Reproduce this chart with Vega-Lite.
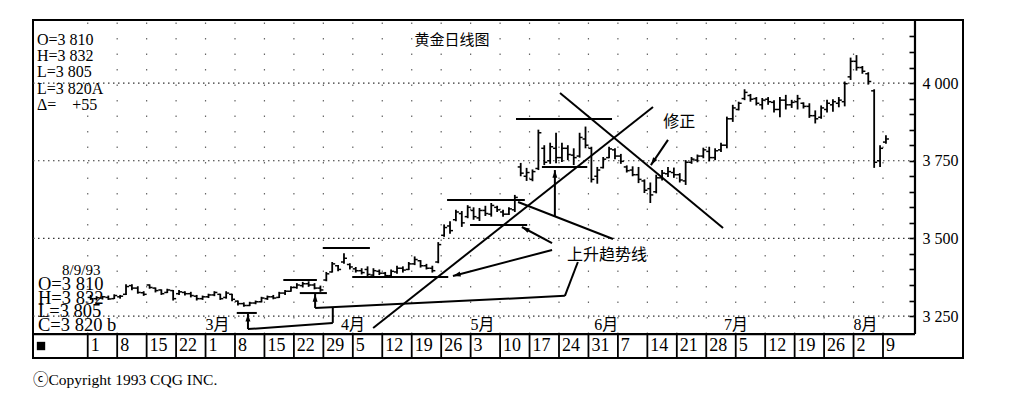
{
  "$schema": "https://vega.github.io/schema/vega-lite/v6.json",
  "width": 930,
  "height": 338,
  "autosize": {"type": "none"},
  "padding": {"left": 33, "top": 20, "right": 61, "bottom": 43},
  "background": "#ffffff",
  "config": {
    "view": {"stroke": "#000", "strokeWidth": 2},
    "axisX": {"disable": true},
    "font": "Liberation Serif"
  },
  "datasets": {
    "bars": [
      {"d":0,"o":3310,"h":3318,"l":3302,"c":3306},{"d":1,"o":3306,"h":3314,"l":3300,"c":3309},{"d":2,"o":3308,"h":3315,"l":3303,"c":3312},{"d":3,"o":3310,"h":3316,"l":3302,"c":3305},{"d":4,"o":3306,"h":3320,"l":3305,"c":3316},
      {"d":5,"o":3312,"h":3318,"l":3306,"c":3314},{"d":6,"o":3320,"h":3352,"l":3318,"c":3345},{"d":7,"o":3348,"h":3352,"l":3333,"c":3340},{"d":8,"o":3340,"h":3346,"l":3322,"c":3326},{"d":9,"o":3325,"h":3330,"l":3315,"c":3320},
      {"d":10,"o":3350,"h":3352,"l":3338,"c":3342},{"d":11,"o":3340,"h":3342,"l":3326,"c":3332},{"d":12,"o":3334,"h":3336,"l":3318,"c":3322},{"d":13,"o":3326,"h":3338,"l":3324,"c":3334},{"d":14,"o":3332,"h":3334,"l":3300,"c":3306},
      {"d":15,"o":3322,"h":3334,"l":3318,"c":3328},{"d":16,"o":3326,"h":3330,"l":3316,"c":3322},{"d":17,"o":3322,"h":3328,"l":3310,"c":3316},{"d":18,"o":3314,"h":3318,"l":3300,"c":3306},{"d":19,"o":3306,"h":3316,"l":3302,"c":3312},
      {"d":20,"o":3312,"h":3322,"l":3308,"c":3318},{"d":21,"o":3318,"h":3330,"l":3314,"c":3326},{"d":22,"o":3320,"h":3322,"l":3302,"c":3306},{"d":23,"o":3310,"h":3330,"l":3306,"c":3324},{"d":24,"o":3320,"h":3322,"l":3298,"c":3304},
      {"d":25,"o":3298,"h":3300,"l":3284,"c":3290},{"d":26,"o":3290,"h":3294,"l":3280,"c":3284},{"d":27,"o":3284,"h":3296,"l":3282,"c":3292},{"d":28,"o":3292,"h":3300,"l":3288,"c":3296},{"d":29,"o":3296,"h":3312,"l":3294,"c":3308},
      {"d":30,"o":3306,"h":3316,"l":3302,"c":3312},{"d":31,"o":3312,"h":3318,"l":3304,"c":3308},{"d":32,"o":3310,"h":3328,"l":3308,"c":3324},{"d":33,"o":3324,"h":3334,"l":3318,"c":3330},{"d":34,"o":3330,"h":3346,"l":3328,"c":3342},
      {"d":35,"o":3342,"h":3356,"l":3338,"c":3350},{"d":36,"o":3348,"h":3360,"l":3342,"c":3354},{"d":37,"o":3354,"h":3362,"l":3344,"c":3350},{"d":38,"o":3350,"h":3356,"l":3336,"c":3340},{"d":39,"o":3340,"h":3348,"l":3328,"c":3334},
      {"d":40,"o":3366,"h":3392,"l":3362,"c":3386},{"d":41,"o":3392,"h":3424,"l":3390,"c":3418},{"d":42,"o":3412,"h":3414,"l":3394,"c":3400},{"d":43,"o":3424,"h":3452,"l":3418,"c":3436},{"d":44,"o":3416,"h":3420,"l":3400,"c":3408},
      {"d":45,"o":3402,"h":3408,"l":3390,"c":3396},{"d":46,"o":3396,"h":3404,"l":3384,"c":3390},{"d":47,"o":3400,"h":3410,"l":3378,"c":3384},{"d":48,"o":3382,"h":3404,"l":3376,"c":3396},{"d":49,"o":3394,"h":3400,"l":3382,"c":3388},
      {"d":50,"o":3388,"h":3392,"l":3376,"c":3380},{"d":51,"o":3380,"h":3400,"l":3378,"c":3394},{"d":52,"o":3392,"h":3412,"l":3386,"c":3404},{"d":53,"o":3404,"h":3410,"l":3390,"c":3398},{"d":54,"o":3400,"h":3424,"l":3398,"c":3418},
      {"d":55,"o":3418,"h":3442,"l":3414,"c":3432},{"d":56,"o":3428,"h":3430,"l":3406,"c":3412},{"d":57,"o":3412,"h":3418,"l":3400,"c":3404},{"d":58,"o":3404,"h":3412,"l":3390,"c":3396},{"d":59,"o":3424,"h":3488,"l":3420,"c":3480},
      {"d":60,"o":3510,"h":3545,"l":3505,"c":3535},{"d":61,"o":3540,"h":3555,"l":3515,"c":3525},{"d":62,"o":3560,"h":3592,"l":3555,"c":3585},{"d":63,"o":3580,"h":3588,"l":3537,"c":3550},{"d":64,"o":3570,"h":3607,"l":3565,"c":3600},
      {"d":65,"o":3590,"h":3600,"l":3560,"c":3570},{"d":66,"o":3566,"h":3598,"l":3556,"c":3590},{"d":67,"o":3590,"h":3605,"l":3572,"c":3580},{"d":68,"o":3578,"h":3614,"l":3570,"c":3606},{"d":69,"o":3600,"h":3605,"l":3585,"c":3592},
      {"d":70,"o":3585,"h":3592,"l":3570,"c":3578},{"d":71,"o":3578,"h":3600,"l":3575,"c":3595},{"d":72,"o":3592,"h":3640,"l":3585,"c":3632},{"d":73,"o":3730,"h":3743,"l":3700,"c":3710},{"d":74,"o":3700,"h":3727,"l":3685,"c":3712},
      {"d":75,"o":3690,"h":3722,"l":3684,"c":3715},{"d":76,"o":3725,"h":3850,"l":3720,"c":3840},{"d":77,"o":3790,"h":3800,"l":3736,"c":3745},{"d":78,"o":3750,"h":3808,"l":3740,"c":3795},{"d":79,"o":3790,"h":3840,"l":3742,"c":3760},
      {"d":80,"o":3760,"h":3808,"l":3746,"c":3790},{"d":81,"o":3790,"h":3800,"l":3752,"c":3770},{"d":82,"o":3768,"h":3790,"l":3736,"c":3760},{"d":83,"o":3765,"h":3840,"l":3760,"c":3825},{"d":84,"o":3820,"h":3860,"l":3790,"c":3800},
      {"d":85,"o":3790,"h":3795,"l":3680,"c":3690},{"d":86,"o":3700,"h":3730,"l":3676,"c":3720},{"d":87,"o":3728,"h":3762,"l":3725,"c":3755},{"d":88,"o":3760,"h":3795,"l":3758,"c":3788},{"d":89,"o":3785,"h":3790,"l":3755,"c":3765},
      {"d":90,"o":3765,"h":3772,"l":3740,"c":3748},{"d":91,"o":3730,"h":3735,"l":3712,"c":3718},{"d":92,"o":3720,"h":3732,"l":3700,"c":3705},{"d":93,"o":3705,"h":3730,"l":3678,"c":3690},{"d":94,"o":3685,"h":3690,"l":3646,"c":3655},
      {"d":95,"o":3660,"h":3680,"l":3614,"c":3640},{"d":96,"o":3650,"h":3705,"l":3645,"c":3695},{"d":97,"o":3695,"h":3720,"l":3686,"c":3710},{"d":98,"o":3708,"h":3730,"l":3698,"c":3715},{"d":99,"o":3712,"h":3728,"l":3695,"c":3705},
      {"d":100,"o":3705,"h":3710,"l":3680,"c":3688},{"d":101,"o":3685,"h":3752,"l":3672,"c":3745},{"d":102,"o":3745,"h":3762,"l":3740,"c":3755},{"d":103,"o":3752,"h":3770,"l":3745,"c":3765},{"d":104,"o":3765,"h":3792,"l":3758,"c":3785},
      {"d":105,"o":3780,"h":3795,"l":3748,"c":3760},{"d":106,"o":3760,"h":3790,"l":3752,"c":3782},{"d":107,"o":3785,"h":3808,"l":3778,"c":3800},{"d":108,"o":3800,"h":3892,"l":3790,"c":3885},{"d":109,"o":3885,"h":3930,"l":3875,"c":3920},
      {"d":110,"o":3915,"h":3940,"l":3912,"c":3935},{"d":111,"o":3950,"h":3980,"l":3945,"c":3970},{"d":112,"o":3960,"h":3965,"l":3940,"c":3948},{"d":113,"o":3950,"h":3955,"l":3928,"c":3935},{"d":114,"o":3930,"h":3952,"l":3915,"c":3945},
      {"d":115,"o":3948,"h":3955,"l":3930,"c":3940},{"d":116,"o":3938,"h":3945,"l":3905,"c":3915},{"d":117,"o":3915,"h":3955,"l":3890,"c":3945},{"d":118,"o":3945,"h":3962,"l":3915,"c":3930},{"d":119,"o":3930,"h":3946,"l":3920,"c":3938},
      {"d":120,"o":3940,"h":3962,"l":3915,"c":3950},{"d":121,"o":3935,"h":3938,"l":3918,"c":3925},{"d":122,"o":3925,"h":3935,"l":3888,"c":3895},{"d":123,"o":3895,"h":3912,"l":3870,"c":3885},{"d":124,"o":3890,"h":3928,"l":3885,"c":3920},
      {"d":125,"o":3915,"h":3946,"l":3905,"c":3935},{"d":126,"o":3930,"h":3948,"l":3908,"c":3940},{"d":127,"o":3935,"h":3955,"l":3922,"c":3945},{"d":128,"o":3940,"h":4005,"l":3925,"c":3998},{"d":129,"o":4020,"h":4082,"l":4010,"c":4070},
      {"d":130,"o":4070,"h":4090,"l":4040,"c":4050},{"d":131,"o":4050,"h":4055,"l":4030,"c":4038},{"d":132,"o":4030,"h":4035,"l":3995,"c":4005},{"d":133,"o":3975,"h":3980,"l":3727,"c":3745},{"d":134,"o":3750,"h":3800,"l":3730,"c":3790},
      {"d":135,"o":3810,"h":3832,"l":3805,"c":3820}
    ],
    "weeks": [
      {"d":0,"label":"1"},{"d":5,"label":"8"},{"d":10,"label":"15"},{"d":15,"label":"22"},
      {"d":20,"label":"1"},{"d":25,"label":"8"},{"d":30,"label":"15"},{"d":35,"label":"22"},{"d":40,"label":"29"},
      {"d":45,"label":"5"},{"d":50,"label":"12"},{"d":55,"label":"19"},{"d":60,"label":"26"},
      {"d":65,"label":"3"},{"d":70,"label":"10"},{"d":75,"label":"17"},{"d":80,"label":"24"},{"d":85,"label":"31"},
      {"d":90,"label":"7"},{"d":95,"label":"14"},{"d":100,"label":"21"},{"d":105,"label":"28"},
      {"d":110,"label":"5"},{"d":115,"label":"12"},{"d":120,"label":"19"},{"d":125,"label":"26"},
      {"d":130,"label":"2"},{"d":135,"label":"9"}
    ],
    "months": [
      {"d":20,"label":"3月"},{"d":43,"label":"4月"},{"d":65,"label":"5月"},
      {"d":86,"label":"6月"},{"d":108,"label":"7月"},{"d":130,"label":"8月"}
    ],
    "grid": [{"v":3250},{"v":3500},{"v":3750},{"v":4000}],
    "segs": [
      {"x1":47.95,"y1":3211.5,"x2":95.46,"y2":3922.9},
      {"x1":79.67,"y1":3968,"x2":107.35,"y2":3533.4},
      {"x1":72.2,"y1":3884.3,"x2":88.5,"y2":3884.3},
      {"x1":60.5,"y1":3623.6,"x2":73.7,"y2":3623.6},
      {"x1":39.4,"y1":3469,"x2":47.4,"y2":3469},
      {"x1":32.7,"y1":3366,"x2":38.4,"y2":3366},
      {"x1":24.8,"y1":3260,"x2":28.2,"y2":3260},
      {"x1":76.6,"y1":3730,"x2":84.3,"y2":3730},
      {"x1":64.4,"y1":3543,"x2":74.1,"y2":3543},
      {"x1":44.4,"y1":3375.7,"x2":60.7,"y2":3375.7},
      {"x1":35.5,"y1":3324,"x2":40.1,"y2":3324},
      {"x1":78.32,"y1":3462.6,"x2":61.5,"y2":3379},
      {"x1":78.32,"y1":3485,"x2":73.2,"y2":3536.7},
      {"x1":88.67,"y1":3498,"x2":72.55,"y2":3617},
      {"x1":78.8,"y1":3569,"x2":78.8,"y2":3720},
      {"x1":82.7,"y1":3424,"x2":80.5,"y2":3315},
      {"x1":80.5,"y1":3315,"x2":38.1,"y2":3276},
      {"x1":38.1,"y1":3276,"x2":38.1,"y2":3321},
      {"x1":41.1,"y1":3276,"x2":41.1,"y2":3228},
      {"x1":41.1,"y1":3228,"x2":26.7,"y2":3208},
      {"x1":26.7,"y1":3208,"x2":26.7,"y2":3257},
      {"x1":98.0,"y1":3817,"x2":95.1,"y2":3736}
    ],
    "heads": [
      {"d":61.5,"v":3379,"a":255},
      {"d":73.2,"v":3536.7,"a":298},
      {"d":78.8,"v":3720,"a":0},
      {"d":38.1,"v":3321,"a":0},
      {"d":26.7,"v":3257,"a":0},
      {"d":95.1,"v":3736,"a":214}
    ]
  },
  "layer": [
    {
      "data": {"name": "grid"},
      "mark": {"type": "rule", "strokeDash": [1.5, 3.5], "strokeWidth": 1.2, "color": "#333"},
      "encoding": {
        "y": {"field": "v", "type": "quantitative", "title": null},
        "x": {"datum": -9.79, "type": "quantitative"},
        "x2": {"datum": 139.93}
      }
    },
    {
      "data": {"name": "weeks"},
      "mark": {"type": "rule", "strokeDash": [1.5, 14], "strokeWidth": 1.2, "color": "#666", "xOffset": -2.95},
      "encoding": {
        "x": {"field": "d", "type": "quantitative", "title": null},
        "y": {"datum": 3192, "type": "quantitative"},
        "y2": {"datum": 4203}
      }
    },
    {
      "data": {"name": "weeks"},
      "mark": {"type": "rule", "strokeWidth": 1.8, "color": "#000", "xOffset": -2.95},
      "encoding": {
        "x": {"field": "d", "type": "quantitative"},
        "y": {"datum": 3115, "type": "quantitative"},
        "y2": {"datum": 3192}
      }
    },
    {
      "data": {"values": [{}]},
      "mark": {"type": "rule", "strokeWidth": 2.2, "color": "#000"},
      "encoding": {
        "y": {"datum": 3192, "type": "quantitative"},
        "x": {"datum": -9.79, "type": "quantitative"},
        "x2": {"datum": 139.93}
      }
    },
    {
      "data": {"values": [{}]},
      "mark": {"type": "rule", "strokeWidth": 2.2, "color": "#000"},
      "encoding": {
        "x": {"datum": 139.93, "type": "quantitative"},
        "y": {"datum": 3192, "type": "quantitative"},
        "y2": {"datum": 4203}
      }
    },
    {
      "data": {"name": "bars"},
      "mark": {"type": "rule", "strokeWidth": 1.8, "color": "#000"},
      "encoding": {
        "x": {"field": "d", "type": "quantitative", "title": null, "scale": {"domain": [-9.79, 148.08], "nice": false, "zero": false}},
        "y": {
          "field": "h", "type": "quantitative", "title": null,
          "scale": {"domain": [3115, 4203], "nice": false, "zero": false},
          "axis": {
            "orient": "right", "offset": -48, "domain": false, "grid": false,
            "values": [3250,3300,3350,3400,3450,3500,3550,3600,3650,3700,3750,3800,3850,3900,3950,4000,4050,4100,4150],
            "tickCount": 100,
            "labelExpr": "datum.value % 250 === 0 ? replace(format(datum.value, ','), ',', ' ') : ''",
            "tickSize": -6, "tickWidth": 1.6, "tickColor": "#000",
            "labelPadding": 13, "labelFontSize": 16, "labelFont": "Liberation Serif", "labelColor": "#000",
            "labelAlign": "left", "labelBaseline": "middle", "labelOverlap": false, "labelFlush": false
          }
        },
        "y2": {"field": "l"}
      }
    },
    {
      "data": {"name": "bars"},
      "mark": {"type": "tick", "orient": "horizontal", "size": 3, "thickness": 1.5, "xOffset": -1.5, "color": "#000", "opacity": 1},
      "encoding": {
        "x": {"field": "d", "type": "quantitative"},
        "y": {"field": "o", "type": "quantitative"}
      }
    },
    {
      "data": {"name": "bars"},
      "mark": {"type": "tick", "orient": "horizontal", "size": 3, "thickness": 1.5, "xOffset": 1.5, "color": "#000", "opacity": 1},
      "encoding": {
        "x": {"field": "d", "type": "quantitative"},
        "y": {"field": "c", "type": "quantitative"}
      }
    },
    {
      "data": {"name": "segs"},
      "mark": {"type": "rule", "strokeWidth": 2, "color": "#000"},
      "encoding": {
        "x": {"field": "x1", "type": "quantitative"},
        "x2": {"field": "x2"},
        "y": {"field": "y1", "type": "quantitative"},
        "y2": {"field": "y2"}
      }
    },
    {
      "data": {"name": "heads"},
      "mark": {"type": "point", "shape": "M0,0L-0.45,1.4L0.45,1.4Z", "filled": true, "size": 120, "color": "#000", "opacity": 1},
      "encoding": {
        "x": {"field": "d", "type": "quantitative"},
        "y": {"field": "v", "type": "quantitative"},
        "angle": {"field": "a", "type": "quantitative", "scale": null}
      }
    },
    {
      "data": {"name": "weeks"},
      "mark": {"type": "text", "align": "left", "baseline": "middle", "fontSize": 18, "font": "Liberation Serif", "color": "#000", "dx": 0},
      "encoding": {
        "x": {"field": "d", "type": "quantitative"},
        "y": {"datum": 3153.6, "type": "quantitative"},
        "text": {"field": "label"}
      }
    },
    {
      "data": {"name": "months"},
      "mark": {"type": "text", "align": "left", "baseline": "middle", "fontSize": 16, "font": "Liberation Serif, Noto Sans CJK SC", "color": "#000", "dx": -3},
      "encoding": {
        "x": {"field": "d", "type": "quantitative"},
        "y": {"datum": 3221, "type": "quantitative"},
        "text": {"field": "label"}
      }
    },
    {
      "data": {"values": [{}]},
      "mark": {"type": "text", "text": "黄金日线图", "font": "Noto Sans CJK SC", "fontSize": 15, "align": "center", "baseline": "middle", "color": "#000"},
      "encoding": {"x": {"datum": 61.35, "type": "quantitative"}, "y": {"datum": 4138.6, "type": "quantitative"}}
    },
    {
      "data": {"values": [{}]},
      "mark": {"type": "text", "text": "上升趋势线", "font": "Noto Sans CJK SC", "fontSize": 16, "align": "center", "baseline": "middle", "color": "#000"},
      "encoding": {"x": {"datum": 87.65, "type": "quantitative"}, "y": {"datum": 3446.5, "type": "quantitative"}}
    },
    {
      "data": {"values": [{}]},
      "mark": {"type": "text", "text": "修正", "font": "Noto Sans CJK SC", "fontSize": 16, "align": "center", "baseline": "middle", "color": "#000"},
      "encoding": {"x": {"datum": 99.9, "type": "quantitative"}, "y": {"datum": 3874.7, "type": "quantitative"}}
    },
    {
      "data": {"values": [{}]},
      "mark": {"type": "text", "text": "O=3 810\nH=3 832\nL=3 805\nL=3 820A\nΔ=\u00a0\u00a0\u00a0\u00a0+55", "lineBreak": "\n", "lineHeight": 16.3, "font": "Liberation Serif", "fontSize": 16, "align": "left", "baseline": "top", "color": "#000"},
      "encoding": {"x": {"datum": -9.11, "type": "quantitative"}, "y": {"datum": 4165.3, "type": "quantitative"}}
    },
    {
      "data": {"values": [{}]},
      "mark": {"type": "text", "text": "8/9/93", "font": "Liberation Serif", "fontSize": 15, "align": "left", "baseline": "middle", "color": "#000"},
      "encoding": {"x": {"datum": -4.86, "type": "quantitative"}, "y": {"datum": 3398.3, "type": "quantitative"}}
    },
    {
      "data": {"values": [{}]},
      "mark": {"type": "text", "text": "O=3 810\nH=3 832\nL=3 805\nC=3 820 b", "lineBreak": "\n", "lineHeight": 13.7, "font": "Liberation Serif", "fontSize": 18.5, "align": "left", "baseline": "middle", "color": "#000"},
      "encoding": {"x": {"datum": -8.94, "type": "quantitative"}, "y": {"datum": 3353.2, "type": "quantitative"}}
    },
    {
      "data": {"values": [{}]},
      "mark": {"type": "text", "text": "ⓒCopyright 1993 CQG INC.", "font": "Liberation Serif, DejaVu Serif, Noto Sans CJK SC", "fontSize": 15.5, "align": "left", "baseline": "middle", "color": "#000"},
      "encoding": {"x": {"datum": -9.79, "type": "quantitative"}, "y": {"datum": 3044.2, "type": "quantitative"}}
    },
    {
      "data": {"values": [{}]},
      "mark": {"type": "point", "shape": "square", "filled": true, "size": 70, "color": "#000", "opacity": 1},
      "encoding": {"x": {"datum": -8.43, "type": "quantitative"}, "y": {"datum": 3153.6, "type": "quantitative"}}
    }
  ]
}
